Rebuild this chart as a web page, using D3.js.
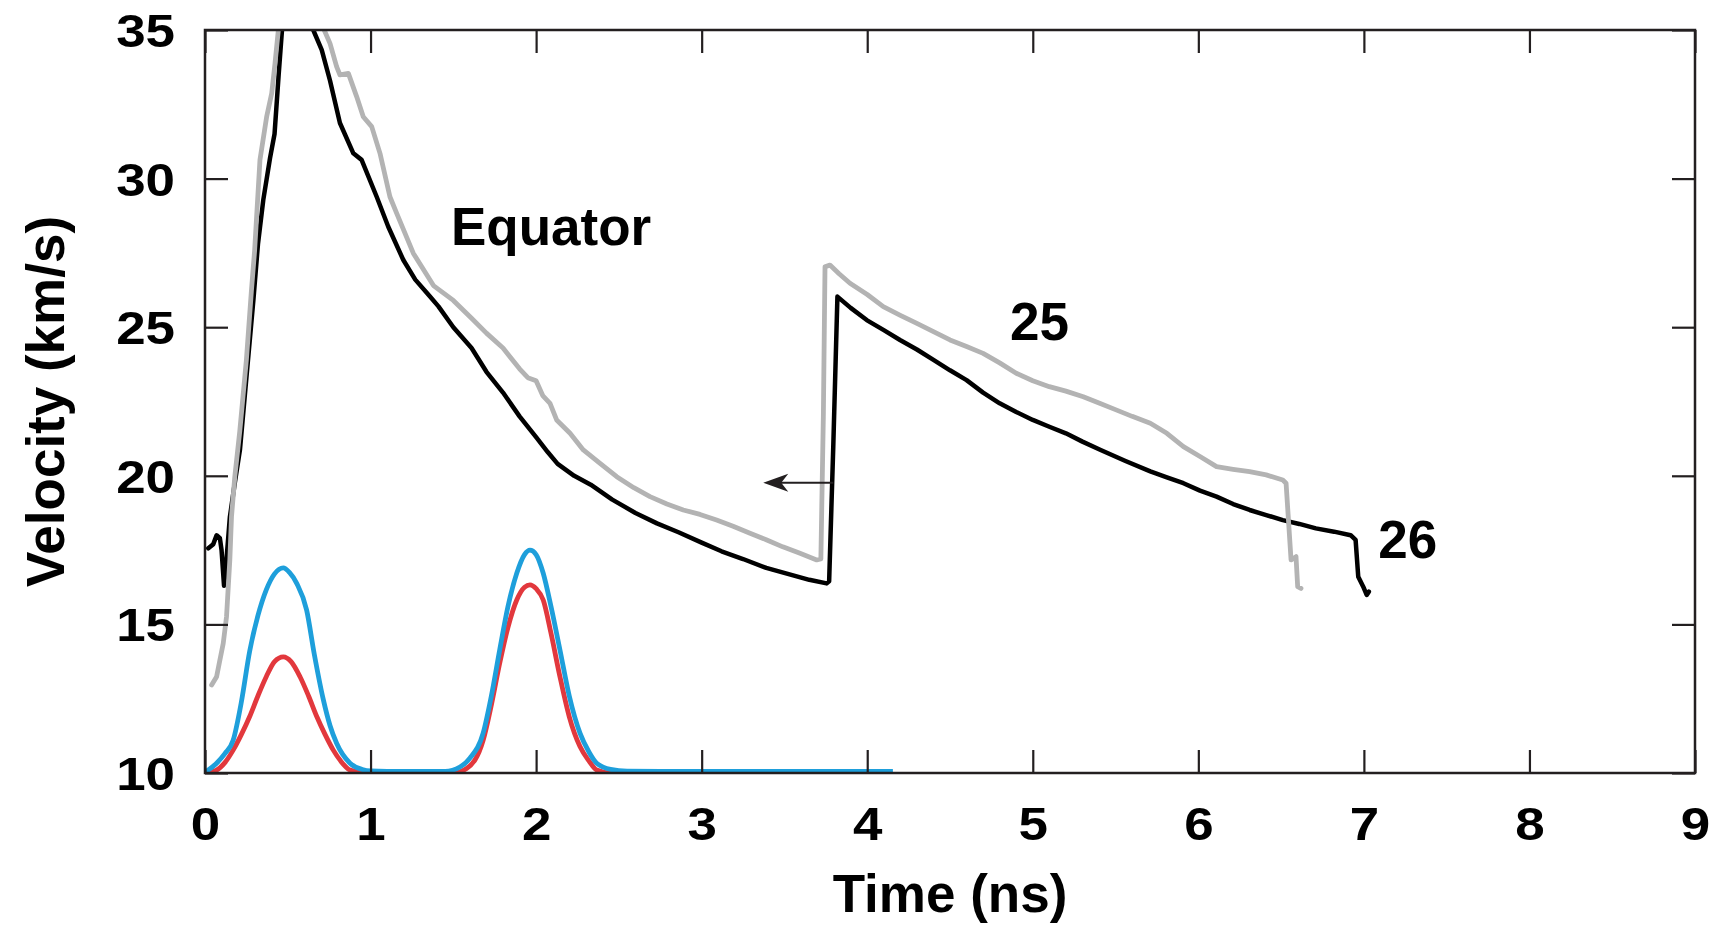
<!DOCTYPE html>
<html>
<head>
<meta charset="utf-8">
<script src="https://cdn.jsdelivr.net/npm/d3@7"></script>
<style>
  html, body { margin: 0; padding: 0; background: #fff; }
  svg { display: block; }
  text { font-family: "Liberation Sans", Arial, Helvetica, sans-serif; font-weight: bold; fill: #000; }
</style>
</head>
<body>
<svg id="chart" width="1715" height="927"></svg>
<script>
// ---- Data (time in ns, velocity in km/s) ----
const xTicks = [0, 1, 2, 3, 4, 5, 6, 7, 8, 9];
const yTicks = [10, 15, 20, 25, 30, 35];

const shot26 = [ // black
  [0.02,17.56],[0.05,17.7],[0.07,18.0],[0.09,17.9],[0.10,17.5],[0.115,16.3],[0.13,17.2],
  [0.15,18.6],[0.18,19.76],[0.211,20.87],[0.25,23.3],[0.292,25.9],[0.32,27.8],[0.352,29.28],
  [0.393,30.7],[0.42,31.5],[0.445,33.5],[0.465,35.0],[0.5,36.5],[0.56,37.2],[0.62,36.2],
  [0.654,35.0],[0.705,34.33],[0.755,33.3],[0.815,31.87],[0.896,30.85],[0.946,30.63],
  [1.037,29.39],[1.107,28.38],[1.198,27.26],[1.27,26.6],[1.359,26.03],[1.41,25.7],
  [1.5,25.0],[1.61,24.3],[1.70,23.5],[1.80,22.8],[1.9,22.0],[2.0,21.3],[2.07,20.8],
  [2.13,20.4],[2.23,20.0],[2.33,19.7],[2.46,19.2],[2.60,18.75],[2.73,18.4],[2.86,18.1],
  [3.0,17.75],[3.12,17.46],[3.25,17.2],[3.39,16.9],[3.52,16.7],[3.65,16.5],[3.755,16.38],
  [3.77,16.45],[3.795,21.0],[3.82,26.03],[3.9,25.65],[3.997,25.24],[4.1,24.9],[4.198,24.57],
  [4.30,24.25],[4.40,23.9],[4.50,23.55],[4.60,23.22],[4.70,22.8],[4.80,22.44],[4.9,22.15],
  [5.0,21.88],[5.10,21.65],[5.20,21.43],[5.30,21.15],[5.41,20.87],[5.56,20.5],[5.71,20.15],
  [5.81,19.95],[5.91,19.75],[6.01,19.5],[6.11,19.3],[6.21,19.05],[6.31,18.85],[6.41,18.68],
  [6.51,18.51],[6.61,18.38],[6.71,18.23],[6.82,18.12],[6.92,18.0],[6.95,17.84],[6.966,16.6],
  [6.996,16.27],[7.017,15.99],[7.03,16.1]
];

const shot25 = [ // grey
  [0.04,12.96],[0.07,13.24],[0.09,13.8],[0.11,14.36],[0.13,15.26],[0.15,17.17],[0.16,18.62],
  [0.18,19.97],[0.21,21.5],[0.25,23.9],[0.28,26.2],[0.30,27.6],[0.332,30.63],[0.373,32.1],
  [0.403,32.87],[0.423,33.88],[0.443,35.0],[0.5,37.5],[0.6,38.0],[0.68,36.5],[0.72,35.0],
  [0.755,34.55],[0.795,33.77],[0.815,33.49],[0.866,33.54],[0.916,32.76],[0.956,32.08],
  [1.007,31.75],[1.057,30.85],[1.117,29.39],[1.158,28.83],[1.258,27.49],[1.38,26.4],
  [1.5,25.9],[1.61,25.3],[1.70,24.8],[1.80,24.3],[1.9,23.6],[1.95,23.3],[2.0,23.2],
  [2.04,22.7],[2.084,22.44],[2.124,21.88],[2.205,21.43],[2.285,20.87],[2.39,20.4],
  [2.487,19.97],[2.59,19.6],[2.688,19.3],[2.79,19.05],[2.889,18.85],[2.99,18.7],[3.09,18.51],
  [3.19,18.3],[3.292,18.07],[3.39,17.85],[3.49,17.61],[3.59,17.4],[3.695,17.17],[3.72,17.2],
  [3.735,22.0],[3.745,27.03],[3.775,27.09],[3.83,26.8],[3.896,26.48],[4.0,26.1],[4.097,25.69],
  [4.2,25.4],[4.30,25.13],[4.40,24.85],[4.50,24.57],[4.60,24.35],[4.70,24.12],[4.80,23.8],
  [4.90,23.45],[5.0,23.2],[5.10,23.0],[5.2,22.85],[5.305,22.66],[5.4,22.45],[5.507,22.21],
  [5.6,22.0],[5.71,21.77],[5.81,21.43],[5.91,20.98],[6.01,20.65],[6.11,20.31],[6.21,20.22],
  [6.31,20.14],[6.41,20.03],[6.51,19.86],[6.53,19.75],[6.56,17.17],[6.59,17.28],[6.60,16.27],
  [6.62,16.21]
];

const pulseBlue = [
  [0,10.02],[0.07,10.33],[0.12,10.65],[0.17,11.1],[0.22,12.4],[0.27,14.1],[0.32,15.3],
  [0.37,16.16],[0.42,16.7],[0.473,16.9],[0.51,16.75],[0.554,16.38],[0.614,15.48],[0.66,14.0],
  [0.715,12.46],[0.755,11.6],[0.795,11.0],[0.876,10.33],[0.95,10.12],[1.0,10.07],[1.2,10.05],
  [1.45,10.05],[1.54,10.2],[1.6,10.5],[1.68,11.34],[1.73,12.6],[1.78,14.14],[1.83,15.6],
  [1.883,16.72],[1.93,17.35],[1.963,17.5],[2.0,17.35],[2.043,16.72],[2.09,15.6],[2.144,14.14],
  [2.2,12.6],[2.265,11.34],[2.32,10.7],[2.366,10.33],[2.45,10.12],[2.55,10.06],[3.0,10.05],
  [3.5,10.05],[4.155,10.05]
];

const pulseRed = [
  [0,10.0],[0.07,10.1],[0.12,10.35],[0.17,10.77],[0.22,11.3],[0.27,11.9],[0.32,12.6],
  [0.37,13.24],[0.42,13.75],[0.473,13.91],[0.52,13.75],[0.574,13.24],[0.625,12.6],[0.675,11.9],
  [0.725,11.3],[0.775,10.77],[0.82,10.4],[0.876,10.1],[0.95,10.02],[1.0,10.0],[1.5,10.0],
  [1.58,10.15],[1.68,11.1],[1.73,12.3],[1.78,13.69],[1.83,14.9],[1.883,15.82],[1.93,16.25],
  [1.963,16.33],[2.0,16.2],[2.043,15.82],[2.09,14.7],[2.144,13.24],[2.2,11.9],[2.265,10.89],
  [2.32,10.4],[2.366,10.1],[2.45,10.0],[4.15,10.0]
];

const arrowFrom = [3.795, 19.77];
const arrowTo = [3.372, 19.77];
const labels = [
  { text: "Equator", t: 1.486, v: 27.77 },
  { text: "25", t: 4.862, v: 24.57 },
  { text: "26", t: 7.087, v: 17.22 }
];

// ---- Layout ----
const L = 205, R = 1695, T = 30, B = 773;
const svg = d3.select("#chart");
const x = d3.scaleLinear().domain([0, 9]).range([L, R]);
const y = d3.scaleLinear().domain([10, 35]).range([B, T]);
const axisColor = "#231f20";

svg.append("defs").append("clipPath").attr("id", "plotclip")
  .append("rect").attr("x", L).attr("y", T).attr("width", R - L).attr("height", B - T);

const plot = svg.append("g").attr("clip-path", "url(#plotclip)");

const lineLin = d3.line().x(d => x(d[0])).y(d => y(d[1]));
const lineSmooth = d3.line().x(d => x(d[0])).y(d => y(d[1])).curve(d3.curveMonotoneX);

plot.append("path").datum(pulseRed).attr("d", lineSmooth)
  .attr("fill", "none").attr("stroke", "#e2383d").attr("stroke-width", 4.8).attr("stroke-linejoin", "round");
plot.append("path").datum(pulseBlue).attr("d", lineSmooth)
  .attr("fill", "none").attr("stroke", "#1e9fdb").attr("stroke-width", 4.8).attr("stroke-linejoin", "round");
plot.append("path").datum(shot26).attr("d", lineLin)
  .attr("fill", "none").attr("stroke", "#000").attr("stroke-width", 4.5).attr("stroke-linejoin", "round").attr("stroke-linecap", "round");
plot.append("path").datum(shot25).attr("d", lineLin)
  .attr("fill", "none").attr("stroke", "#b3b3b3").attr("stroke-width", 4.8).attr("stroke-linejoin", "round").attr("stroke-linecap", "round");

// arrow
const ax1 = x(arrowFrom[0]), ay = y(arrowFrom[1]), ax2 = x(arrowTo[0]);
svg.append("line").attr("x1", ax1).attr("y1", ay).attr("x2", ax2 + 10).attr("y2", ay)
  .attr("stroke", axisColor).attr("stroke-width", 2);
svg.append("path")
  .attr("d", `M${ax2},${ay} L${ax2 + 25},${ay - 9} L${ax2 + 18},${ay} L${ax2 + 25},${ay + 9} Z`)
  .attr("fill", axisColor);

// axes with inward ticks on all four sides
const tickLen = 23;
const axG = svg.append("g");
const axBottom = axG.append("g").attr("transform", `translate(0,${B})`)
  .call(d3.axisBottom(x).tickValues(xTicks).tickSizeInner(-tickLen).tickSizeOuter(0).tickFormat(d3.format("d")));
const axTop = axG.append("g").attr("transform", `translate(0,${T})`)
  .call(d3.axisTop(x).tickValues(xTicks).tickSizeInner(-tickLen).tickSizeOuter(0).tickFormat(""));
const axLeft = axG.append("g").attr("transform", `translate(${L},0)`)
  .call(d3.axisLeft(y).tickValues(yTicks).tickSizeInner(-tickLen).tickSizeOuter(0).tickFormat(d3.format("d")));
const axRight = axG.append("g").attr("transform", `translate(${R},0)`)
  .call(d3.axisRight(y).tickValues(yTicks).tickSizeInner(-tickLen).tickSizeOuter(0).tickFormat(""));

[axBottom, axTop, axLeft, axRight].forEach(g => {
  g.select(".domain").remove();
  g.selectAll(".tick line").attr("stroke", axisColor).attr("stroke-width", 2.2);
});

// tick labels: bold, slightly widened to match the original face
axBottom.selectAll(".tick text").attr("y", 0).attr("x", 0).attr("dy", 0)
  .attr("transform", "translate(0,67) scale(1.15,1)")
  .style("font-size", "46px").style("font-family", "'Liberation Sans', Arial, sans-serif")
  .style("font-weight", "bold").attr("fill", "#000");
axLeft.selectAll(".tick text").attr("x", 0).attr("dy", "0.36em")
  .attr("transform", "translate(-30,0) scale(1.15,1)")
  .style("font-size", "46px").style("font-family", "'Liberation Sans', Arial, sans-serif")
  .style("font-weight", "bold").attr("fill", "#000");

// frame
svg.append("rect").attr("x", L).attr("y", T).attr("width", R - L).attr("height", B - T)
  .attr("fill", "none").attr("stroke", axisColor).attr("stroke-width", 2.5);

// annotations
labels.forEach(l => {
  svg.append("text").attr("x", x(l.t)).attr("y", y(l.v))
    .style("font-size", "53px").attr("fill", axisColor).text(l.text);
});

// axis titles
svg.append("text").attr("x", (L + R) / 2).attr("y", 912).attr("text-anchor", "middle")
  .style("font-size", "53px").text("Time (ns)");
svg.append("text").attr("transform", `translate(64,${(T + B) / 2}) rotate(-90)`)
  .attr("text-anchor", "middle").style("font-size", "53px").text("Velocity (km/s)");
</script>
</body>
</html>
